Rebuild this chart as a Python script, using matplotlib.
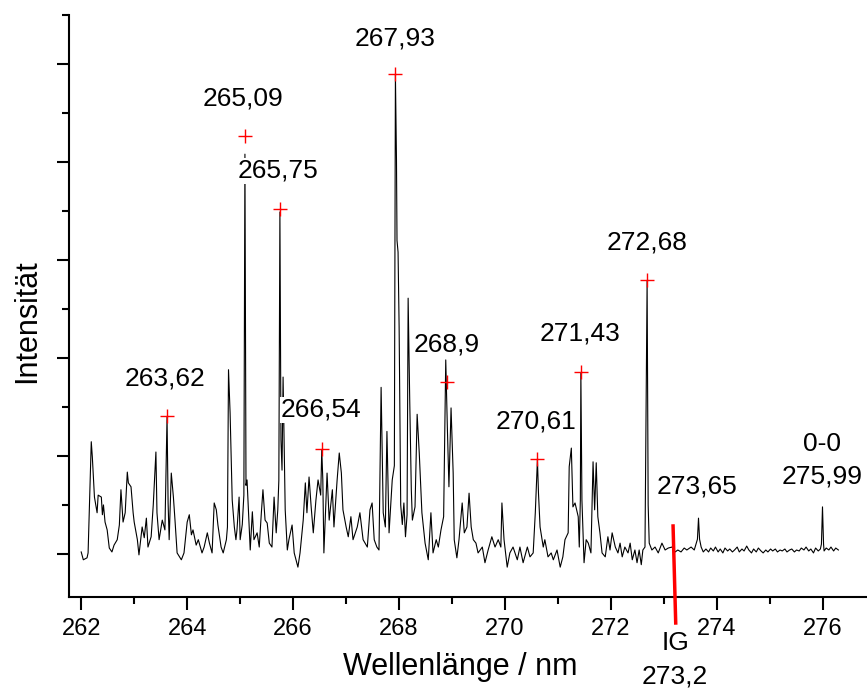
import numpy as np
import matplotlib.pyplot as plt
from matplotlib.ticker import MultipleLocator, NullFormatter

plt.rcParams['font.family'] = ['Liberation Sans', 'DejaVu Sans']

# Spektrum
wl = [262.00, 262.04, 262.11, 262.13, 262.19, 262.21, 262.25, 262.30, 262.32, 262.38,
      262.40, 262.42, 262.45, 262.49, 262.53, 262.58, 262.62, 262.68, 262.72, 262.75,
      262.79, 262.83, 262.87, 262.89, 262.94, 262.98, 263.00, 263.06, 263.09, 263.15,
      263.19, 263.23, 263.26, 263.32, 263.36, 263.41, 263.43, 263.47, 263.53, 263.58,
      263.62, 263.64, 263.66, 263.70, 263.74, 263.77, 263.81, 263.89, 263.94, 264.00,
      264.04, 264.08, 264.11, 264.17, 264.21, 264.28, 264.32, 264.38, 264.42, 264.47,
      264.51, 264.55, 264.58, 264.64, 264.68, 264.74, 264.76, 264.78, 264.81, 264.85,
      264.89, 264.92, 264.94, 264.98, 265.00, 265.04, 265.07, 265.09, 265.11, 265.13,
      265.19, 265.23, 265.26, 265.32, 265.36, 265.40, 265.43, 265.47, 265.51, 265.55,
      265.60, 265.64, 265.68, 265.71, 265.73, 265.75, 265.77, 265.79, 265.81, 265.85,
      265.89, 265.92, 265.98, 266.02, 266.09, 266.13, 266.19, 266.23, 266.26, 266.30,
      266.34, 266.38, 266.43, 266.47, 266.52, 266.54, 266.56, 266.58, 266.64, 266.68,
      266.74, 266.77, 266.83, 266.87, 266.91, 266.94, 267.00, 267.04, 267.09, 267.13,
      267.21, 267.26, 267.32, 267.40, 267.45, 267.49, 267.53, 267.58, 267.62, 267.66,
      267.70, 267.74, 267.77, 267.81, 267.87, 267.91, 267.93, 267.95, 267.96, 267.98,
      268.00, 268.03, 268.06, 268.09, 268.12, 268.15, 268.17, 268.20, 268.23, 268.25,
      268.30, 268.34, 268.38, 268.42, 268.43, 268.49, 268.55, 268.60, 268.64, 268.70,
      268.74, 268.79, 268.84, 268.88, 268.91, 268.94, 268.98, 269.02, 269.04, 269.09,
      269.13, 269.19, 269.23, 269.28, 269.32, 269.36, 269.40, 269.45, 269.49, 269.57,
      269.62, 269.68, 269.75, 269.81, 269.87, 269.92, 269.94, 269.98, 270.04, 270.09,
      270.15, 270.23, 270.28, 270.34, 270.42, 270.47, 270.53, 270.57, 270.61, 270.63,
      270.66, 270.72, 270.75, 270.81, 270.87, 270.91, 270.98, 271.04, 271.09, 271.13,
      271.19, 271.21, 271.25, 271.28, 271.32, 271.38, 271.40, 271.42, 271.43, 271.45,
      271.49, 271.53, 271.57, 271.62, 271.66, 271.69, 271.72, 271.75, 271.79, 271.83,
      271.89, 271.94, 271.98, 272.02, 272.08, 272.13, 272.17, 272.21, 272.26, 272.32,
      272.36, 272.40, 272.45, 272.49, 272.53, 272.57, 272.60, 272.64, 272.68, 272.70,
      272.72, 272.77, 272.83, 272.89, 272.96, 273.02, 273.08, 273.15, 273.21, 273.26,
      273.32, 273.38, 273.43, 273.51, 273.57, 273.63, 273.65, 273.67, 273.70, 273.74,
      273.79, 273.84, 273.88, 273.93, 273.97, 274.02, 274.06, 274.11, 274.15, 274.20,
      274.24, 274.29, 274.33, 274.38, 274.42, 274.47, 274.51, 274.56, 274.60, 274.65,
      274.69, 274.74, 274.78, 274.83, 274.87, 274.92, 274.96, 275.01, 275.05, 275.10,
      275.14, 275.19, 275.23, 275.28, 275.32, 275.37, 275.41, 275.46, 275.50, 275.55,
      275.59, 275.64, 275.68, 275.73, 275.77, 275.82, 275.86, 275.91, 275.95, 275.97,
      275.99, 276.01, 276.02, 276.06, 276.11, 276.15, 276.20, 276.24, 276.29]
inten = [0.04, -0.12, -0.08, 0.02, 2.29, 1.98, 1.16, 0.84, 1.20, 1.16,
         0.80, 1.00, 0.65, 0.49, 0.12, 0.04, 0.18, 0.29, 0.59, 1.31,
         0.65, 0.84, 1.67, 1.45, 1.37, 0.84, 0.65, 0.29, -0.02, 0.55,
         0.33, 0.73, 0.14, 0.35, 1.00, 2.08, 0.84, 0.29, 0.69, 0.49,
         2.80, 1.04, 0.29, 1.65, 1.16, 0.69, 0.02, -0.12, 0.02, 0.65,
         0.80, 0.39, 0.49, 0.18, 0.29, 0.02, 0.14, 0.43, 0.22, 0.02,
         1.04, 0.90, 0.59, 0.14, 0.02, 0.29, 0.55, 3.76, 2.88, 1.10,
         0.55, 0.29, 0.49, 1.16, 0.29, 0.60, 1.20, 8.16, 1.40, 1.51,
         0.08, 0.86, 0.29, 0.43, 0.14, 0.84, 1.31, 0.69, 0.63, 0.22,
         0.14, 1.16, 0.43, 0.90, 1.50, 6.98, 2.33, 1.71, 3.61, 0.90,
         0.08, 0.29, 0.59, 0.02, -0.27, 0.02, 0.69, 1.45, 0.84, 1.57,
         0.96, 0.43, 1.10, 1.51, 1.20, 2.12, 1.51, 0.02, 1.65, 0.69,
         1.31, 0.55, 1.51, 2.06, 1.65, 0.90, 0.55, 0.35, 0.76, 0.29,
         0.55, 0.84, 0.29, 0.14, 0.90, 1.04, 0.29, 0.14, 0.08, 3.40,
         0.84, 0.55, 2.50, 0.43, 1.51, 1.80, 9.78, 8.04, 6.40, 6.16,
         4.63, 1.00, 0.60, 1.04, 0.35, 0.80, 5.22, 3.14, 1.31, 0.69,
         0.96, 2.85, 2.06, 1.10, 0.84, 0.22, -0.12, 0.84, 0.02, 0.29,
         0.14, 0.49, 0.76, 3.96, 2.59, 1.37, 2.98, 1.65, 0.29, -0.08,
         0.29, 1.04, 0.43, 0.55, 1.24, 0.55, 0.29, 0.22, 0.02, 0.14,
         -0.18, 0.08, 0.35, 0.14, 0.29, 0.14, 1.04, 0.29, -0.27, 0.02,
         0.14, -0.12, 0.14, -0.18, 0.14, -0.06, 0.02, 0.84, 1.92, 1.24,
         0.55, 0.14, 0.29, -0.06, 0.02, -0.12, 0.08, -0.27, -0.06, 0.29,
         0.43, 1.78, 2.16, 0.96, 1.04, 0.76, 0.14, 1.10, 3.69, 1.10,
         -0.18, 0.29, 0.22, 0.02, 1.88, 0.90, 1.86, 0.76, 0.43, 0.02,
         -0.06, 0.35, 0.08, 0.43, 0.14, 0.02, 0.22, -0.06, 0.14, 0.02,
         0.22, -0.12, 0.08, -0.18, 0.08, -0.22, 0.08, 0.14, 5.57, 1.00,
         0.22, 0.08, 0.14, 0.02, 0.22, 0.08, 0.12, 0.14, 0.04, 0.08,
         0.04, 0.12, 0.08, 0.14, 0.08, 0.30, 0.73, 0.30, 0.14, 0.04,
         0.10, 0.04, 0.12, 0.06, 0.14, 0.04, 0.10, 0.02, 0.12, 0.06,
         0.10, 0.04, 0.08, 0.14, 0.04, 0.10, 0.06, 0.16, 0.08, 0.02,
         0.10, 0.04, 0.12, 0.06, 0.02, 0.08, 0.04, 0.10, 0.06, 0.10,
         0.04, 0.08, 0.06, 0.10, 0.04, 0.08, 0.10, 0.04, 0.08, 0.06,
         0.12, 0.08, 0.14, 0.06, 0.10, 0.02, 0.12, 0.06, 0.10, 0.20,
         0.96, 0.20, 0.06, 0.12, 0.08, 0.14, 0.06, 0.12, 0.08]

# markierte Peaks
peak_wl = [263.62, 265.09, 265.75, 266.54, 267.93, 268.90, 270.61, 271.43, 272.68]
peak_int = [2.82, 8.53, 7.04, 2.14, 9.80, 3.51, 1.94, 3.71, 5.59]

# Beschriftungen
lbl_text = ['263,62', '265,09', '265,75', '266,54', '267,93', '268,9', '270,61',
            '271,43', '272,68', '273,65', '0-0\n275,99']
lbl_x = [263.58, 265.06, 265.72, 266.53, 267.92, 268.89, 270.58, 271.42, 272.68,
         273.62, 275.98]
lbl_y = [3.59, 9.29, 7.82, 2.94, 10.53, 4.27, 2.71, 4.49, 6.35, 1.37, 1.92]

# IG-Markierung
ig_wl = [273.17, 273.22]
ig_int = [0.57, -1.41]

fig = plt.figure(figsize=(8.67, 6.89), dpi=100)
ax = fig.add_axes([0.0796, 0.1335, 0.9204, 0.8447])

ax.plot(wl, inten, 'k-', linewidth=0.8, zorder=2)
ax.plot(peak_wl, peak_int, 'r+', markersize=10, markeredgewidth=1.0, zorder=3)

for s, x, y in zip(lbl_text, lbl_x, lbl_y):
    ax.text(x, y, s, ha='center', va='center', fontsize=19, zorder=4,
            linespacing=1.45,
            bbox=dict(facecolor='white', edgecolor='none', pad=0.5))

ax.plot(ig_wl, ig_int, color='red', linewidth=2.5, clip_on=False, zorder=5)
ax.text(273.21, -2.16, 'IG\n273,2', ha='center', va='center', fontsize=19,
        linespacing=1.45, clip_on=False)

ax.set_xlim(261.77, 276.83)
ax.set_ylim(-0.88, 11.0)
ax.xaxis.set_major_locator(MultipleLocator(2))
ax.xaxis.set_minor_locator(MultipleLocator(1))
ax.yaxis.set_major_locator(MultipleLocator(2))
ax.yaxis.set_minor_locator(MultipleLocator(1))
ax.yaxis.set_major_formatter(NullFormatter())

ax.spines['top'].set_visible(False)
ax.spines['right'].set_visible(False)
ax.spines['left'].set_linewidth(1.5)
ax.spines['bottom'].set_linewidth(1.5)
ax.tick_params(which='major', length=9, width=1.5, labelsize=17, pad=6)
ax.tick_params(which='minor', length=5, width=1.5)

ax.set_xlabel('Wellenlänge / nm', fontsize=22)
ax.set_ylabel('Intensität', fontsize=22)
ax.xaxis.set_label_coords(0.49, -0.094)
ax.yaxis.set_label_coords(-0.034, 0.474)

fig.savefig('out.png', dpi=100)
